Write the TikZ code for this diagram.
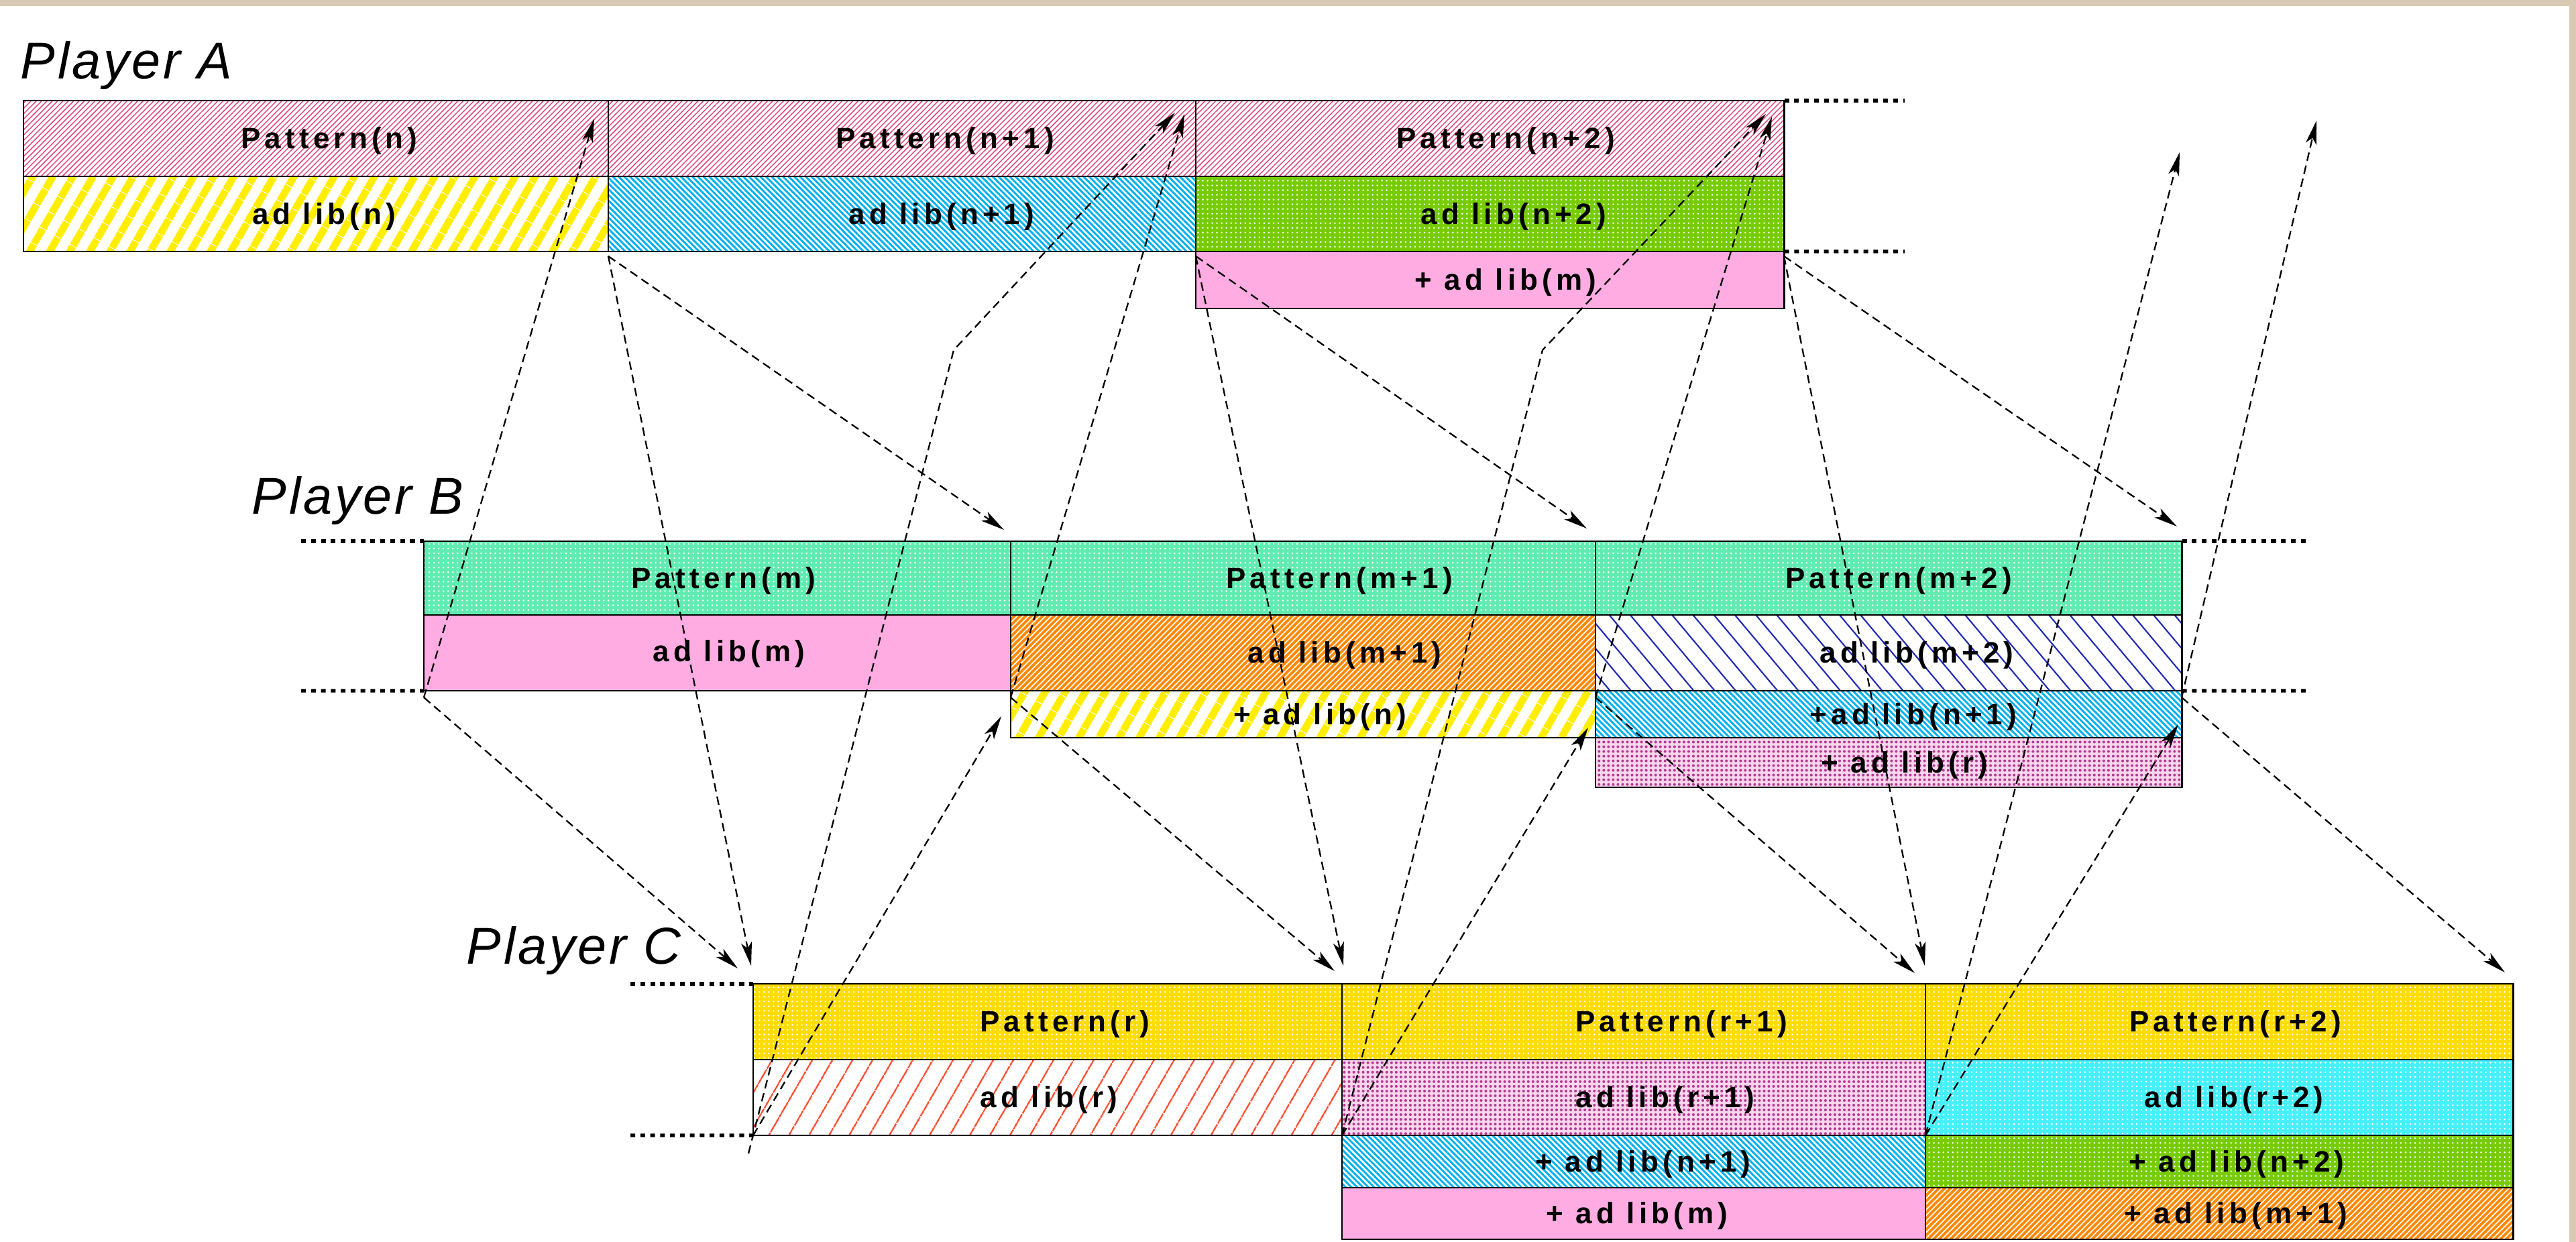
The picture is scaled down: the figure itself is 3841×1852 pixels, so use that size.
\documentclass[tikz,border=0pt]{standalone}
\usepackage{fontspec}
\setmainfont{Liberation Sans}
\newfontfamily\cellfont{Liberation Sans}[LetterSpace=14]
\newfontfamily\playerfont{Liberation Sans}[LetterSpace=5]
\usetikzlibrary{arrows.meta,patterns.meta}

\definecolor{paper}{RGB}{216,201,178}
\definecolor{crimson}{RGB}{225,70,125}
\definecolor{lemon}{RGB}{255,238,0}
\definecolor{skyline}{RGB}{0,176,236}
\definecolor{leaf}{RGB}{118,204,0}
\definecolor{candy}{RGB}{255,172,226}
\definecolor{mintbg}{RGB}{96,236,176}
\definecolor{tangerine}{RGB}{255,136,0}
\definecolor{navyline}{RGB}{30,40,180}
\definecolor{mauvebg}{RGB}{248,215,236}
\definecolor{plum}{RGB}{182,58,148}
\definecolor{goldbg}{RGB}{255,220,0}
\definecolor{redline}{RGB}{255,70,40}
\definecolor{aquabg}{RGB}{70,240,250}

\tikzset{
  cellbox/.style={draw=black, line width=0.8pt, inner sep=0pt, outer sep=0pt, anchor=north west},
  celltext/.style={font=\cellfont\bfseries\fontsize{12.5}{14}\selectfont, inner sep=0pt, text height=9pt, text depth=0pt},
  playerlbl/.style={font=\playerfont\itshape\fontsize{22}{24}\selectfont, inner sep=0pt, anchor=base west},
  crimsonhatch/.style={preaction={fill=white}, pattern={Lines[angle=45,distance=1.6pt,line width=0.42pt]}, pattern color=crimson},
  yellowstripe/.style={preaction={fill=white}, pattern={Lines[angle=60,distance=7.4pt,line width=3.2pt]}, pattern color=lemon},
  cyanhatch/.style={preaction={fill=white}, pattern={Lines[angle=-45,distance=1.7pt,line width=0.85pt]}, pattern color=skyline},
  greendots/.style={preaction={fill=leaf}, pattern={Dots[distance=2pt,radius=0.4pt]}, pattern color=white},
  pinkfill/.style={fill=candy},
  mintdots/.style={preaction={fill=mintbg}, pattern={Dots[distance=2pt,radius=0.4pt]}, pattern color=white},
  orangehatch/.style={preaction={fill=tangerine}, pattern={Lines[angle=45,distance=1.7pt,line width=0.5pt]}, pattern color=white},
  bluehatch/.style={preaction={fill=white}, pattern={Lines[angle=-50,distance=6.8pt,line width=0.6pt]}, pattern color=navyline},
  mauvedots/.style={preaction={fill=mauvebg}, pattern={Dots[distance=2pt,radius=0.58pt]}, pattern color=plum},
  golddots/.style={preaction={fill=goldbg}, pattern={Dots[distance=2pt,radius=0.4pt]}, pattern color=white},
  redhatch/.style={preaction={fill=white}, pattern={Lines[angle=60,distance=7.4pt,line width=0.7pt]}, pattern color=redline},
  aquadots/.style={preaction={fill=aquabg}, pattern={Dots[distance=2pt,radius=0.4pt]}, pattern color=white},
  guide/.style={line width=1.5pt, dash pattern=on 2pt off 2.2pt},
  link/.style={line width=0.65pt, dash pattern=on 3.6pt off 2.1pt, arrows={-Stealth[length=10pt,width=4.6pt,inset=2.5pt]}}
}

\begin{document}
\begin{tikzpicture}[x=0.01cm, y=-0.01cm]
  \useasboundingbox (0,0) rectangle (3841,1852);
  \fill[paper] (0,0) rectangle (3841,1852);
  \fill[white] (0,9) rectangle (3831,1852);

  % ---------- Player A ----------
  \node[playerlbl] (plA) at (30,118) {Player A};
  \node[cellbox, crimsonhatch, minimum width=8.72cm, minimum height=1.13cm] (A1p) at (35,150) {};
  \node[cellbox, crimsonhatch, minimum width=8.76cm, minimum height=1.13cm] (A2p) at (907,150) {};
  \node[cellbox, crimsonhatch, minimum width=8.77cm, minimum height=1.13cm] (A3p) at (1783,150) {};
  \node[cellbox, yellowstripe, minimum width=8.72cm, minimum height=1.12cm] (A1a) at (35,263) {};
  \node[cellbox, cyanhatch, minimum width=8.76cm, minimum height=1.12cm] (A2a) at (907,263) {};
  \node[cellbox, greendots, minimum width=8.77cm, minimum height=1.12cm] (A3a) at (1783,263) {};
  \node[cellbox, pinkfill, minimum width=8.77cm, minimum height=0.85cm] (A3x) at (1783,375) {};

  \node[celltext] (A1pt) at (491,206) {Pattern(n)};
  \node[celltext] (A2pt) at (1409,206) {Pattern(n+1)};
  \node[celltext] (A3pt) at (2245,206) {Pattern(n+2)};
  \node[celltext] (A1at) at (483,319) {ad lib(n)};
  \node[celltext] (A2at) at (1404,319) {ad lib(n+1)};
  \node[celltext] (A3at) at (2257,319) {ad lib(n+2)};
  \node[celltext] (A3xt) at (2245,417) {+ ad lib(m)};

  % ---------- Player B ----------
  \node[playerlbl] (plB) at (375,766) {Player B};
  \node[cellbox, mintdots, minimum width=8.75cm, minimum height=1.10cm] (B1p) at (632,807) {};
  \node[cellbox, mintdots, minimum width=8.72cm, minimum height=1.10cm] (B2p) at (1507,807) {};
  \node[cellbox, mintdots, minimum width=8.74cm, minimum height=1.10cm] (B3p) at (2379,807) {};
  \node[cellbox, pinkfill, minimum width=8.75cm, minimum height=1.13cm] (B1a) at (632,917) {};
  \node[cellbox, orangehatch, minimum width=8.72cm, minimum height=1.13cm] (B2a) at (1507,917) {};
  \node[cellbox, bluehatch, minimum width=8.74cm, minimum height=1.13cm] (B3a) at (2379,917) {};
  \node[cellbox, yellowstripe, minimum width=8.72cm, minimum height=0.70cm] (B2x) at (1507,1030) {};
  \node[cellbox, cyanhatch, minimum width=8.74cm, minimum height=0.70cm] (B3x) at (2379,1030) {};
  \node[cellbox, mauvedots, minimum width=8.74cm, minimum height=0.74cm] (B3y) at (2379,1100) {};

  \node[celltext] (B1pt) at (1079,862) {Pattern(m)};
  \node[celltext] (B2pt) at (1997,862) {Pattern(m+1)};
  \node[celltext] (B3pt) at (2831,862) {Pattern(m+2)};
  \node[celltext] (B1at) at (1087,971) {ad lib(m)};
  \node[celltext] (B2at) at (2005,973) {ad lib(m+1)};
  \node[celltext] (B3at) at (2858,973) {ad lib(m+2)};
  \node[celltext] (B2xt) at (1968,1065) {+ ad lib(n)};
  \node[celltext] (B3xt) at (2853,1065) {+ad lib(n+1)};
  \node[celltext] (B3yt) at (2840,1137) {+ ad lib(r)};

  % ---------- Player C ----------
  \node[playerlbl] (plC) at (695,1437) {Player C};
  \node[cellbox, golddots, minimum width=8.78cm, minimum height=1.13cm] (C1p) at (1123,1467) {};
  \node[cellbox, golddots, minimum width=8.70cm, minimum height=1.13cm] (C2p) at (2001,1467) {};
  \node[cellbox, golddots, minimum width=8.76cm, minimum height=1.13cm] (C3p) at (2871,1467) {};
  \node[cellbox, redhatch, minimum width=8.78cm, minimum height=1.13cm] (C1a) at (1123,1580) {};
  \node[cellbox, mauvedots, minimum width=8.70cm, minimum height=1.13cm] (C2a) at (2001,1580) {};
  \node[cellbox, aquadots, minimum width=8.76cm, minimum height=1.13cm] (C3a) at (2871,1580) {};
  \node[cellbox, cyanhatch, minimum width=8.70cm, minimum height=0.78cm] (C2x) at (2001,1693) {};
  \node[cellbox, greendots, minimum width=8.76cm, minimum height=0.78cm] (C3x) at (2871,1693) {};
  \node[cellbox, pinkfill, minimum width=8.70cm, minimum height=0.77cm] (C2y) at (2001,1771) {};
  \node[cellbox, orangehatch, minimum width=8.76cm, minimum height=0.77cm] (C3y) at (2871,1771) {};

  \node[celltext] (C1pt) at (1588,1523) {Pattern(r)};
  \node[celltext] (C2pt) at (2507,1523) {Pattern(r+1)};
  \node[celltext] (C3pt) at (3333,1523) {Pattern(r+2)};
  \node[celltext] (C1at) at (1564,1636) {ad lib(r)};
  \node[celltext] (C2at) at (2483,1636) {ad lib(r+1)};
  \node[celltext] (C3at) at (3331,1636) {ad lib(r+2)};
  \node[celltext] (C2xt) at (2450,1732) {+ ad lib(n+1)};
  \node[celltext] (C3xt) at (3335,1732) {+ ad lib(n+2)};
  \node[celltext] (C2yt) at (2441,1809) {+ ad lib(m)};
  \node[celltext] (C3yt) at (3334,1809) {+ ad lib(m+1)};

  % ---------- dotted row guides ----------
  \coordinate (gA1) at (2840,150);
  \coordinate (gA2) at (2840,375);
  \coordinate (gB1) at (449,807);
  \coordinate (gB2) at (449,1030);
  \coordinate (gB3) at (3440,807);
  \coordinate (gB4) at (3440,1030);
  \coordinate (gC1) at (940,1467);
  \coordinate (gC2) at (940,1693);
  \draw[guide] (A3p.north east) -- (gA1);
  \draw[guide] (A3a.south east) -- (gA2);
  \draw[guide] (gB1) -- (B1p.north west);
  \draw[guide] (gB2) -- (B1a.south west);
  \draw[guide] (B3p.north east) -- (gB3);
  \draw[guide] (B3a.south east) -- (gB4);
  \draw[guide] (gC1) -- (C1p.north west);
  \draw[guide] (gC2) -- (C1a.south west);

  % ---------- hand-over points ----------
  \coordinate (hA1) at (907,382);
  \coordinate (hA2) at (1783,382);
  \coordinate (hA3) at (2660,382);
  \coordinate (hB0) at (632,1040);
  \coordinate (hB1) at (1507,1040);
  \coordinate (hB2) at (2379,1040);
  \coordinate (hB3) at (3253,1040);
  \coordinate (hC0) at (1123,1693);
  \coordinate (hC1) at (2001,1693);
  \coordinate (hC2) at (2871,1693);
  \coordinate (sC0) at (1116,1720);
  \coordinate (kC0) at (1422,522);
  \coordinate (kC1) at (2300,522);

  % arrow tips
  \coordinate (tA1) at (886,177);
  \coordinate (tA2a) at (1752,168);
  \coordinate (tA2b) at (1766,170);
  \coordinate (tA3a) at (2633,170);
  \coordinate (tA3b) at (2642,174);
  \coordinate (tA4) at (3250,227);
  \coordinate (tA5) at (3454,180);
  \coordinate (tB1) at (1497,790);
  \coordinate (tB2) at (2366,788);
  \coordinate (tB3) at (3246,785);
  \coordinate (tB1u) at (1493,1068);
  \coordinate (tB2u) at (2368,1085);
  \coordinate (tB3u) at (3248,1080);
  \coordinate (tC0a) at (1100,1444);
  \coordinate (tC0b) at (1120,1440);
  \coordinate (tC1a) at (1990,1448);
  \coordinate (tC1b) at (2003,1440);
  \coordinate (tC2a) at (2855,1451);
  \coordinate (tC2b) at (2870,1440);
  \coordinate (tC3) at (3735,1450);

  % ---------- hand-over arrows ----------
  % from Player A
  \draw[link] (hA1) -- (tB1);
  \draw[link] (hA1) -- (tC0b);
  \draw[link] (hA2) -- (tB2);
  \draw[link] (hA2) -- (tC1b);
  \draw[link] (hA3) -- (tB3);
  \draw[link] (hA3) -- (tC2b);
  % from Player B
  \draw[link] (hB0) -- (tA1);
  \draw[link] (hB0) -- (tC0a);
  \draw[link] (hB1) -- (tA2b);
  \draw[link] (hB1) -- (tC1a);
  \draw[link] (hB2) -- (tA3b);
  \draw[link] (hB2) -- (tC2a);
  \draw[link] (hB3) -- (tA5);
  \draw[link] (hB3) -- (tC3);
  % from Player C
  \draw[link] (sC0) -- (kC0) -- (tA2a);
  \draw[link] (hC0) -- (tB1u);
  \draw[link] (hC1) -- (kC1) -- (tA3a);
  \draw[link] (hC1) -- (tB2u);
  \draw[link] (hC2) -- (tA4);
  \draw[link] (hC2) -- (tB3u);
\end{tikzpicture}
\end{document}
